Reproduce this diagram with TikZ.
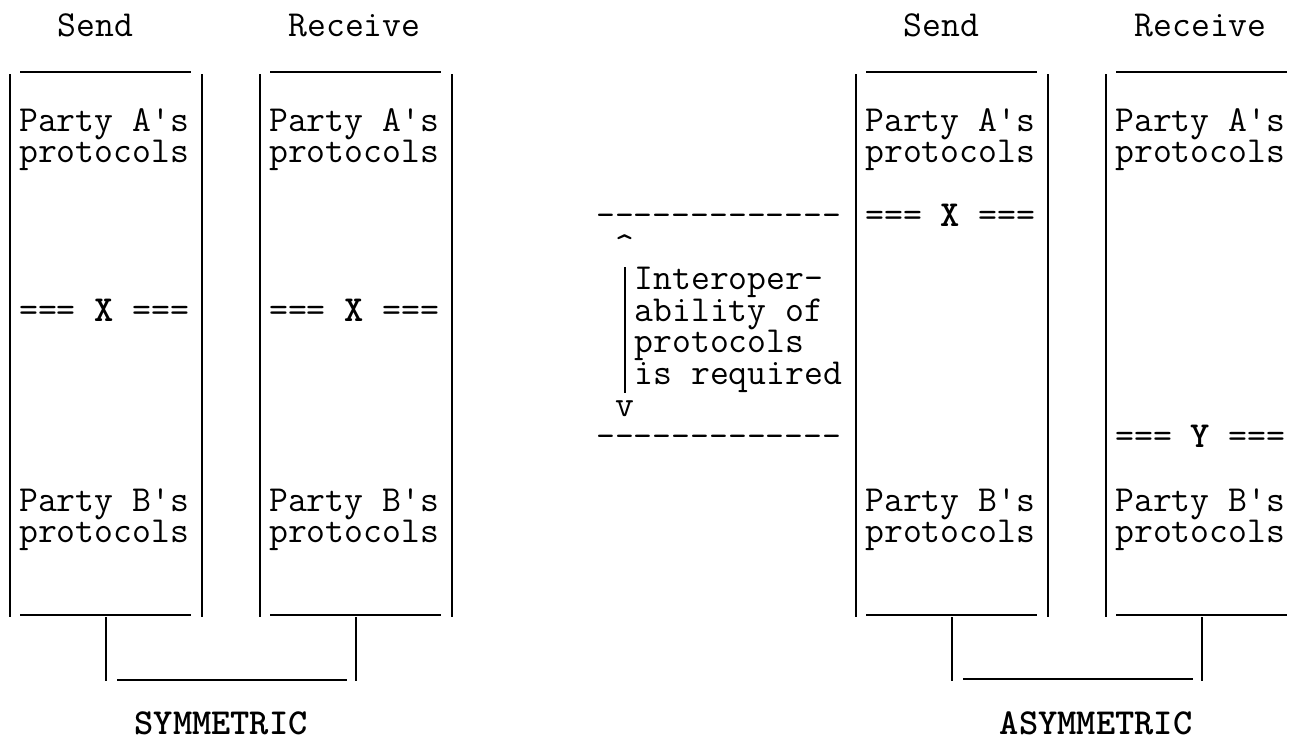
\documentclass[tikz,border=0pt]{standalone}
\begin{document}
\begin{tikzpicture}[x=19.23pt,y=-1pt,
  txt/.style={anchor=base west,inner sep=0pt,outer sep=0pt,text height=20pt,text depth=5pt,font=\fontsize{36.63}{40}\selectfont\ttfamily},
  bld/.style={txt,text depth=0pt,font=\fontsize{36.63}{40}\selectfont\ttfamily\bfseries},
  ln/.style={line width=1.8pt,black}]
\useasboundingbox (0,0) rectangle (1292pt,740);
% headers
\node[txt] (s1) at (3,36) {Send};
\node[txt] (r1) at (15,36) {Receive};
\node[txt] (s2) at (47,36) {Send};
\node[txt] (r2) at (59,36) {Receive};
% boxes
\foreach \c/\n in {0/b1,13/b2,44/b3,57/b4}{
  \draw[ln] (\c+0.5,74) -- (\c+0.5,617);
  \draw[ln] (\c+10.5,74) -- (\c+10.5,617);
  \draw[ln] (\c+1.05,72) -- (\c+9.95,72);
  \draw[ln] (\c+1.05,615) -- (\c+9.95,615);
  \node[txt] (\n a1) at (\c+1,131) {Party A's};
  \node[txt] (\n a2) at (\c+1,162.7) {protocols};
  \node[txt] (\n b1) at (\c+1,511) {Party B's};
  \node[txt] (\n b2) at (\c+1,542.7) {protocols};
}
% X / Y markers
\node[txt] (x1) at (1,321) {=== \textbf{X} ===};
\node[txt] (x2) at (14,321) {=== \textbf{X} ===};
\node[txt] (x3) at (45,226) {=== \textbf{X} ===};
\node[txt] (y4) at (58,447.7) {=== \textbf{Y} ===};
% interoperability
\node[txt] (d1) at (31,226) {-------------};
\node[txt] (up) at (32,257.7) {\^{}};
\node[txt] (i1) at (33,289.4) {Interoper-};
\node[txt] (i2) at (33,321) {ability of};
\node[txt] (i3) at (33,352.7) {protocols};
\node[txt] (i4) at (33,384.4) {is required};
\node[txt] (dn) at (32,416) {v};
\node[txt] (d2) at (31,447.7) {-------------};
\draw[ln] (32.5,267) -- (32.5,393);
% brackets
\draw[ln] (5.5,617) -- (5.5,681);
\draw[ln] (18.5,617) -- (18.5,681);
\draw[ln] (6.1,680) -- (18.05,680);
\draw[ln] (49.5,617) -- (49.5,681);
\draw[ln] (62.5,617) -- (62.5,681);
\draw[ln] (50.1,679) -- (62.05,679);
% captions
\node[bld] (sym) at (7,734) {SYMMETRIC};
\node[bld] (asym) at (52,734) {ASYMMETRIC};
\end{tikzpicture}
\end{document}
